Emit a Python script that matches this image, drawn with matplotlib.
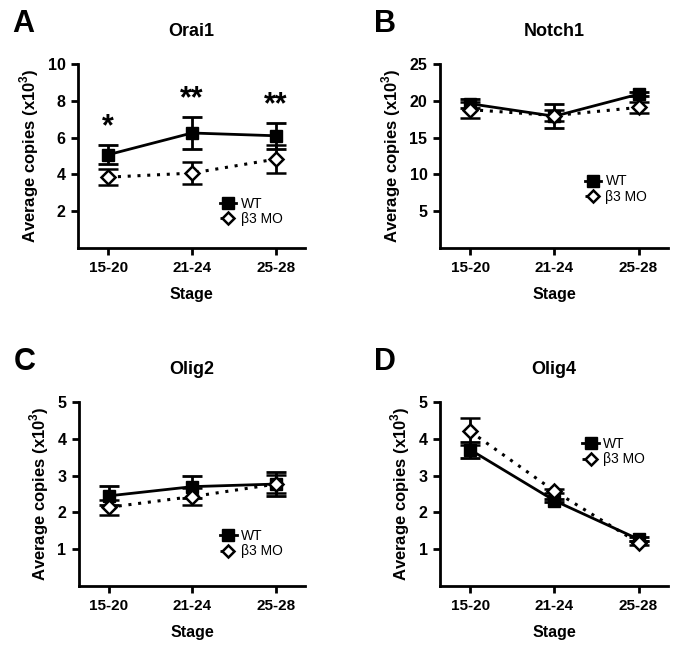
import numpy as np
import matplotlib.pyplot as plt
from matplotlib.lines import Line2D

plt.rcParams['font.family'] = ['Liberation Sans', 'DejaVu Sans']
plt.rcParams['mathtext.fontset'] = 'custom'
plt.rcParams['mathtext.rm'] = 'Liberation Sans:bold'
plt.rcParams['mathtext.bf'] = 'Liberation Sans:bold'

# stages on the x axis
stages = ['15-20', '21-24', '25-28']

# panel A - Orai1
orai1_wt = [5.07, 6.25, 6.10]
orai1_wt_err = [0.52, 0.87, 0.72]
orai1_mo = [3.85, 4.07, 4.83]
orai1_mo_err = [0.43, 0.60, 0.75]
orai1_stars = ['*', '**', '**']

# panel B - Notch1
notch1_wt = [19.6, 17.9, 20.9]
notch1_wt_err = [0.6, 1.6, 0.3]
notch1_mo = [18.8, 18.0, 19.1]
notch1_mo_err = [1.1, 0.8, 0.8]

# panel C - Olig2
olig2_wt = [2.45, 2.70, 2.77]
olig2_wt_err = [0.26, 0.30, 0.33]
olig2_mo = [2.14, 2.43, 2.77]
olig2_mo_err = [0.20, 0.22, 0.25]

# panel D - Olig4
olig4_wt = [3.70, 2.32, 1.27]
olig4_wt_err = [0.22, 0.05, 0.05]
olig4_mo = [4.20, 2.58, 1.17]
olig4_mo_err = [0.37, 0.05, 0.05]

W, H = 685, 649
fig = plt.figure(figsize=(W / 100, H / 100), dpi=100)

MO_LS = (0, (1, 2.2))


def make_axes(x0, x1, ytop, ybot):
    return fig.add_axes([x0 / W, 1 - ybot / H, (x1 - x0) / W, (ybot - ytop) / H])


def draw_panel(ax, letter, title, wt, wt_err, mo, mo_err, ymax, ystep, legend_pos):
    x = np.arange(len(stages))
    ax.errorbar(x, wt, yerr=wt_err, color='black', lw=2, marker='s', ms=9,
                capsize=7, capthick=2, elinewidth=2, zorder=3)
    ax.errorbar(x, mo, yerr=mo_err, color='black', lw=2.2, ls=MO_LS,
                marker='D', ms=7, mfc='white', mec='black', mew=1.8,
                capsize=7, capthick=2, elinewidth=2, zorder=4)
    ax.set_xlim(-0.36, 2.35)
    ax.set_ylim(0, ymax)
    ax.set_xticks(x)
    ax.set_xticklabels(stages, fontsize=11, fontweight='bold')
    yt = np.arange(ystep, ymax + ystep / 2, ystep)
    ax.set_yticks(yt)
    ax.set_yticklabels([f'{v:g}' for v in yt], fontsize=11.5, fontweight='bold')
    ax.tick_params(width=2, length=5, pad=4)
    for s in ['top', 'right']:
        ax.spines[s].set_visible(False)
    for s in ['left', 'bottom']:
        ax.spines[s].set_linewidth(2)
    ax.set_xlabel('Stage', fontsize=11.5, fontweight='bold', labelpad=9)
    ax.set_ylabel('Average copies (x10$^{3}$)', fontsize=12, fontweight='bold', labelpad=5)
    ax.set_title(title, fontsize=13, fontweight='bold', pad=20)
    ax.text(-0.29, 1.3, letter, transform=ax.transAxes, fontsize=22,
            fontweight='bold', ha='left', va='top')
    handles = [
        Line2D([], [], color='black', lw=2, marker='s', ms=8),
        Line2D([], [], color='black', lw=2, ls=MO_LS, marker='D', ms=6.5,
               mfc='white', mec='black', mew=1.8),
    ]
    ax.legend(handles, ['WT', 'β3 MO'], loc='center left', bbox_to_anchor=legend_pos,
              frameon=False, fontsize=10, handlelength=1.2,
              handletextpad=0.3, labelspacing=0.1, borderaxespad=0)


axA = make_axes(78, 305, 64, 248)
draw_panel(axA, 'A', 'Orai1', orai1_wt, orai1_wt_err, orai1_mo, orai1_mo_err, 10, 2, (0.6, 0.2))
for i, star in enumerate(orai1_stars):
    axA.text(i, orai1_wt[i] + orai1_wt_err[i] + 0.15, star, ha='center', va='bottom',
             fontsize=22, fontweight='bold')

axB = make_axes(440, 668, 64, 248)
draw_panel(axB, 'B', 'Notch1', notch1_wt, notch1_wt_err, notch1_mo, notch1_mo_err, 25, 5, (0.61, 0.32))

axC = make_axes(79, 305, 402, 586)
draw_panel(axC, 'C', 'Olig2', olig2_wt, olig2_wt_err, olig2_mo, olig2_mo_err, 5, 1, (0.6, 0.23))

axD = make_axes(440, 668, 402, 586)
draw_panel(axD, 'D', 'Olig4', olig4_wt, olig4_wt_err, olig4_mo, olig4_mo_err, 5, 1, (0.6, 0.73))

fig.savefig('out.png', dpi=100)
